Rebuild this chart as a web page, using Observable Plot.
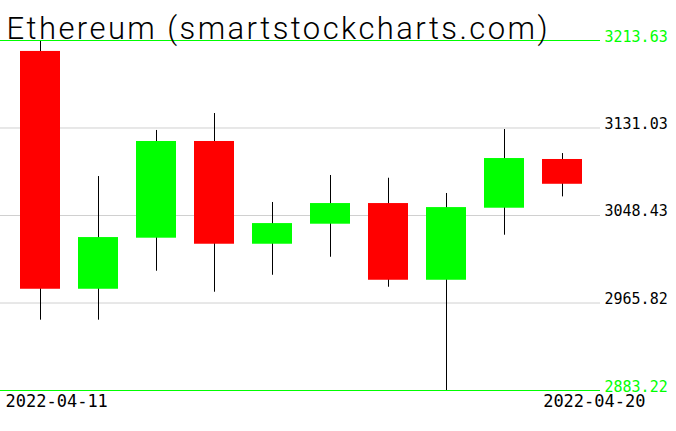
<!DOCTYPE html>
<html>
<head>
<meta charset="utf-8">
<script src="https://cdn.jsdelivr.net/npm/d3@7"></script>
<script src="https://cdn.jsdelivr.net/npm/@observablehq/plot@0.6"></script>
<style>
  html, body { margin: 0; padding: 0; background: #fff; }
  #chart { width: 676px; height: 431px; overflow: hidden; }
</style>
</head>
<body>
<div id="chart"></div>
<script>
const title = "Ethereum (smartstockcharts.com)";
const dates = ["2022-04-11","2022-04-12","2022-04-13","2022-04-14","2022-04-15",
               "2022-04-16","2022-04-17","2022-04-18","2022-04-19","2022-04-20"];
const open  = [3203.3, 2978.8, 3027.0, 3118.3, 3021.3, 3040.2, 3059.7, 2987.3, 3055.3, 3101.3];
const high  = [3213.0, 3085.2, 3128.7, 3144.7, 3060.7, 3086.2, 3083.6, 3069.2, 3129.6, 3106.9];
const low   = [2949.6, 2949.6, 2995.8, 2976.0, 2992.0, 3009.0, 2980.7, 2883.22, 3029.8, 3066.0];
const close = [2978.8, 3027.6, 3118.3, 3021.3, 3040.8, 3059.7, 2987.3, 3055.9, 3102.2, 3077.9];
const yTicks = [3213.63, 3131.03, 3048.43, 2965.82, 2883.22];

const data = dates.map((d, i) => ({date: d, open: open[i], high: high[i], low: low[i], close: close[i]}));
const GREEN = "#00ff00", RED = "#ff0000";

const chart = Plot.plot({
  width: 676,
  height: 431,
  marginTop: 40,
  marginBottom: 41,
  marginLeft: 1,
  marginRight: 76,
  style: {background: "#fff", overflow: "visible"},
  x: {type: "band", domain: dates, padding: 0.3115, axis: null},
  y: {domain: [yTicks[4], yTicks[0]], axis: null},
  marks: [
    Plot.ruleY(yTicks.slice(1, -1), {y: d => d, stroke: "#d0d0d0", insetLeft: -1}),
    Plot.ruleX(data, {x: "date", y1: "low", y2: "high", stroke: "#000"}),
    Plot.barY(data, {x: "date", y1: "open", y2: "close", fill: d => d.close >= d.open ? GREEN : RED}),
    Plot.ruleY([yTicks[0], yTicks[4]], {y: d => d, stroke: GREEN, insetLeft: -1}),
    Plot.text(yTicks, {
      y: d => d, text: d => d.toFixed(2), frameAnchor: "right", textAnchor: "start",
      lineAnchor: "bottom", dx: 4, dy: 1,
      fill: (d, i) => (i === 0 || i === yTicks.length - 1) ? GREEN : "#000",
      fontFamily: "DejaVu Sans Mono", fontSize: 15
    }),
    Plot.text([dates[0]], {text: d => d, frameAnchor: "bottom-left", textAnchor: "start",
      lineAnchor: "bottom", dx: 4, dy: 16, fill: "#000", fontFamily: "DejaVu Sans Mono", fontSize: 17}),
    Plot.text([dates[dates.length - 1]], {text: d => d, frameAnchor: "bottom-right", textAnchor: "end",
      lineAnchor: "bottom", dx: 45, dy: 16, fill: "#000", fontFamily: "DejaVu Sans Mono", fontSize: 17}),
    Plot.text([title], {text: d => d, frameAnchor: "top-left", textAnchor: "start",
      lineAnchor: "bottom", dx: 5, dy: -2, fill: "#000", fontFamily: "Roboto", fontWeight: 300, fontSize: 31,
      className: "title-text"})
  ]
});
document.getElementById("chart").appendChild(chart);
d3.select(chart).selectAll(".title-text text")
  .attr("textLength", 541).attr("lengthAdjust", "spacing");
</script>
</body>
</html>
